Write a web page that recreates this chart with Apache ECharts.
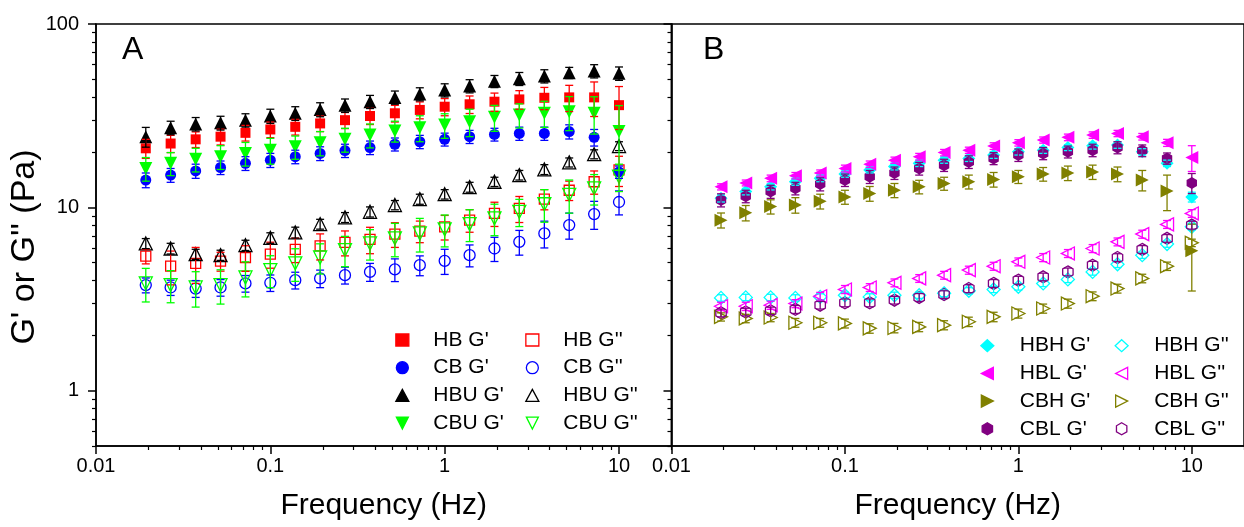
<!DOCTYPE html>
<html>
<head>
<meta charset="utf-8">
<script src="https://cdn.jsdelivr.net/npm/echarts@6/dist/echarts.min.js"></script>
<style>
  html, body { margin: 0; padding: 0; background: #fff; }
  #chart { width: 1244px; height: 527px; }
</style>
</head>
<body>
<div id="chart"></div>
<script>
// ---------- DATA ----------
const freq = [0.0193, 0.0268, 0.0373, 0.0518, 0.0720, 0.100, 0.139, 0.193, 0.268, 0.373,
              0.518, 0.720, 1.00, 1.39, 1.93, 2.68, 3.73, 5.18, 7.20, 10.0];

// Panel A
const hbG1     = [21.0, 22.3, 23.5, 24.3, 25.5, 26.6, 27.5, 28.7, 29.9, 31.5, 32.6, 34.0, 35.4, 36.5, 37.7, 38.8, 39.6, 39.8, 39.8, 36.1];
const hbG1Err  = [2.5, 2.4, 2.3, 2.4, 2.5, 2.6, 2.7, 2.8, 3.0, 3.2, 3.4, 3.6, 3.8, 4.0, 4.3, 4.5, 5.5, 6.5, 8.5, 9.5];
const cbG1     = [14.1, 15.0, 15.8, 16.5, 17.4, 18.1, 18.9, 19.7, 20.4, 21.2, 22.1, 22.8, 23.5, 24.3, 25.0, 25.3, 25.3, 25.9, 24.1, 15.6];
const cbG1Err  = [1.3, 1.3, 1.4, 1.4, 1.5, 1.6, 1.6, 1.7, 1.7, 1.8, 1.8, 1.9, 1.9, 2.0, 2.0, 2.1, 2.1, 2.3, 2.5, 1.2];
const hbuG1    = [24.3, 27.2, 28.5, 28.9, 29.9, 31.5, 32.6, 34.2, 36.0, 37.7, 39.8, 41.5, 43.6, 45.9, 48.7, 50.3, 52.0, 54.2, 55.4, 53.8];
const hbuG1Err = [3.0, 2.3, 2.4, 2.5, 2.5, 2.8, 2.8, 3.0, 3.0, 3.1, 3.3, 3.4, 3.6, 3.8, 3.7, 4.1, 4.3, 3.8, 4.6, 4.5];
const cbuG1    = [16.3, 17.4, 18.3, 18.9, 19.7, 20.5, 21.4, 22.5, 23.5, 24.8, 26.1, 27.2, 28.1, 29.3, 31.0, 31.9, 32.6, 33.2, 32.6, 25.9];
const cbuG1Err = [2.4, 2.5, 2.7, 2.8, 2.9, 3.3, 3.1, 3.4, 3.5, 3.7, 3.4, 4.4, 4.3, 5.0, 5.0, 4.8, 5.3, 7.0, 7.5, 10.0];

const hbG2     = [5.42, 4.78, 4.95, 5.09, 5.33, 5.56, 5.90, 6.17, 6.44, 6.69, 7.15, 7.42, 7.84, 8.52, 9.27, 9.87, 11.1, 12.4, 13.8, 16.0];
const hbG2Err  = [0.5, 1.0, 1.1, 0.6, 0.85, 0.9, 0.9, 1.0, 1.0, 1.1, 1.1, 1.0, 1.2, 1.2, 1.4, 1.6, 1.4, 1.5, 2.0, 3.0];
const cbG2     = [3.77, 3.66, 3.61, 3.66, 3.85, 3.88, 4.01, 4.10, 4.27, 4.45, 4.59, 4.84, 5.11, 5.49, 5.97, 6.49, 7.21, 8.01, 9.19, 10.7];
const cbG2Err  = [0.35, 0.35, 0.38, 0.38, 0.4, 0.4, 0.42, 0.45, 0.45, 0.5, 0.65, 0.6, 0.8, 0.75, 0.9, 1.0, 1.2, 1.3, 1.6, 1.6];
const hbuG2    = [6.36, 5.97, 5.56, 5.49, 6.22, 6.82, 7.30, 8.11, 8.82, 9.46, 10.3, 11.1, 11.8, 12.9, 13.8, 15.0, 16.1, 17.6, 19.5, 21.6];
const hbuG2Err = [0.4, 0.4, 0.35, 0.35, 0.4, 0.45, 0.5, 0.5, 0.55, 0.6, 0.6, 0.7, 0.7, 0.8, 0.8, 0.9, 1.0, 1.0, 1.1, 1.2];
const cbuG2    = [3.85, 3.77, 3.66, 3.77, 4.15, 4.55, 4.95, 5.33, 5.85, 6.36, 6.78, 7.21, 7.59, 8.11, 8.71, 9.46, 10.4, 11.7, 12.7, 14.7];
const cbuG2Err = [0.8, 0.75, 0.8, 0.8, 0.9, 0.9, 1.0, 1.0, 1.1, 1.2, 1.4, 1.5, 1.5, 1.6, 1.7, 1.6, 2.1, 2.4, 2.4, 2.5];

// Panel B
const hbhG1    = [11.2, 12.2, 12.95, 13.8, 14.4, 15.2, 16.0, 16.7, 17.4, 18.1, 18.5, 19.3, 20.1, 20.5, 21.2, 21.7, 21.9, 20.1, 17.4, 11.4];
const hbhG1Err = [0.5, 0.5, 0.5, 0.6, 0.6, 0.6, 0.6, 0.7, 0.7, 0.7, 0.7, 0.8, 0.8, 0.8, 0.8, 0.9, 0.9, 0.8, 0.7, 0.7];
const hblG1    = [12.95, 13.6, 14.4, 14.9, 15.4, 16.3, 17.2, 18.1, 18.9, 19.9, 20.5, 21.6, 22.5, 23.3, 24.1, 24.8, 25.3, 24.3, 22.5, 18.7];
const hblG1Err = [0.5, 0.5, 0.6, 0.6, 0.6, 0.7, 0.7, 0.7, 0.8, 0.8, 0.8, 0.9, 0.9, 0.9, 1.0, 1.0, 1.0, 1.0, 1.0, 3.0];
const cbhG1    = [8.52, 9.34, 10.1, 10.3, 10.8, 11.4, 11.9, 12.4, 12.95, 13.5, 13.8, 14.2, 14.7, 15.2, 15.4, 15.6, 15.2, 14.1, 12.3, 5.80];
const cbhG1Err = [0.8, 0.9, 0.9, 1.0, 1.0, 1.0, 1.1, 1.1, 1.1, 1.1, 1.2, 1.3, 1.2, 1.3, 1.4, 1.4, 1.4, 1.8, 2.7, 2.3];
const cblG1    = [10.96, 11.5, 12.2, 12.7, 13.4, 14.1, 14.7, 15.4, 16.3, 17.0, 17.7, 18.5, 19.3, 19.7, 20.1, 20.5, 21.2, 20.4, 18.5, 13.6];
const cblG1Err = [0.9, 0.9, 1.0, 1.0, 1.1, 1.1, 1.2, 1.2, 1.3, 1.3, 1.4, 1.4, 1.5, 1.5, 1.5, 1.6, 1.6, 1.5, 1.3, 1.7];

const hbhG2    = [3.21, 3.23, 3.23, 3.21, 3.25, 3.32, 3.25, 3.32, 3.32, 3.40, 3.51, 3.57, 3.69, 3.85, 4.05, 4.45, 4.90, 5.49, 6.31, 7.84];
const hbhG2Err = [0.13, 0.13, 0.13, 0.13, 0.13, 0.13, 0.13, 0.13, 0.13, 0.14, 0.14, 0.14, 0.15, 0.15, 0.16, 0.18, 0.2, 0.22, 0.25, 0.3];
const hblG2    = [2.89, 2.89, 2.93, 2.99, 3.28, 3.57, 3.66, 3.88, 4.10, 4.27, 4.55, 4.78, 5.05, 5.33, 5.61, 5.97, 6.49, 7.15, 8.08, 9.27];
const hblG2Err = [0.15, 0.15, 0.15, 0.15, 0.16, 0.18, 0.18, 0.19, 0.2, 0.21, 0.23, 0.24, 0.25, 0.27, 0.28, 0.3, 0.32, 0.36, 0.4, 0.45];
const cbhG2    = [2.53, 2.48, 2.51, 2.35, 2.35, 2.33, 2.19, 2.20, 2.23, 2.28, 2.38, 2.53, 2.64, 2.81, 2.99, 3.28, 3.61, 4.10, 4.78, 6.41];
const cbhG2Err = [0.13, 0.13, 0.13, 0.13, 0.13, 0.13, 0.13, 0.13, 0.13, 0.13, 0.14, 0.15, 0.15, 0.16, 0.17, 0.18, 0.2, 0.22, 0.25, 0.3];
const cblG2    = [2.66, 2.69, 2.73, 2.78, 2.93, 3.02, 3.02, 3.12, 3.23, 3.35, 3.61, 3.85, 4.01, 4.18, 4.45, 4.84, 5.33, 5.90, 6.78, 8.01];
const cblG2Err = [0.13, 0.13, 0.13, 0.14, 0.14, 0.15, 0.15, 0.15, 0.16, 0.16, 0.18, 0.19, 0.2, 0.2, 0.22, 0.24, 0.26, 0.29, 0.33, 0.4];

// Axis ticks / labels
const xMajorTicks = [0.01, 0.1, 1, 10];
const xMinorTicks = [0.02, 0.03, 0.04, 0.05, 0.06, 0.07, 0.08, 0.09,
                     0.2, 0.3, 0.4, 0.5, 0.6, 0.7, 0.8, 0.9,
                     2, 3, 4, 5, 6, 7, 8, 9, 20];
const yMajorTicks = [1, 10, 100];
const yMinorTicks = [0.5, 0.6, 0.7, 0.8, 0.9, 2, 3, 4, 5, 6, 7, 8, 9,
                     20, 30, 40, 50, 60, 70, 80, 90];

// ---------- CHART ----------
const FONT = '"Liberation Sans", Arial, sans-serif';
const HEX   = 'path://M0,-10L8.66,-5L8.66,5L0,10L-8.66,5L-8.66,-5Z';
const TRI_D = 'path://M-10,-10L10,-10L0,10Z';
const TRI_L = 'path://M10,-10L10,10L-10,0Z';
const TRI_R = 'path://M-10,-10L-10,10L10,0Z';

const seriesDefs = [
  // panel, name, values, errors, color, symbol, size, filled
  [0, "HB G'",   hbG1,  hbG1Err,  '#FF0000', 'rect',     10, true],
  [0, "HB G''",  hbG2,  hbG2Err,  '#FF0000', 'rect',     10, false],
  [0, "CB G'",   cbG1,  cbG1Err,  '#0000FF', 'circle',   11, true],
  [0, "CB G''",  cbG2,  cbG2Err,  '#0000FF', 'circle',   11, false],
  [0, "HBU G'",  hbuG1, hbuG1Err, '#000000', 'triangle', 13, true],
  [0, "HBU G''", hbuG2, hbuG2Err, '#000000', 'triangle', 13, false],
  [0, "CBU G'",  cbuG1, cbuG1Err, '#00FF00', TRI_D,      13, true],
  [0, "CBU G''", cbuG2, cbuG2Err, '#00FF00', TRI_D,      13, false],
  [1, "HBH G'",  hbhG1, hbhG1Err, '#00FFFF', 'diamond',  13, true],
  [1, "HBH G''", hbhG2, hbhG2Err, '#00FFFF', 'diamond',  13, false],
  [1, "HBL G'",  hblG1, hblG1Err, '#FF00FF', TRI_L,      13, true],
  [1, "HBL G''", hblG2, hblG2Err, '#FF00FF', TRI_L,      13, false],
  [1, "CBH G'",  cbhG1, cbhG1Err, '#808000', TRI_R,      13, true],
  [1, "CBH G''", cbhG2, cbhG2Err, '#808000', TRI_R,      13, false],
  [1, "CBL G'",  cblG1, cblG1Err, '#800080', HEX,        12, true],
  [1, "CBL G''", cblG2, cblG2Err, '#800080', HEX,        12, false]
];

function errRenderer(color) {
  return function (params, api) {
    const x = api.value(0), y = api.value(1), e = api.value(2);
    const top = api.coord([x, y + e]);
    const bot = api.coord([x, Math.max(y - e, 0.01)]);
    const hw = 4;
    const st = { stroke: color, lineWidth: 1.3 };
    return {
      type: 'group',
      children: [
        { type: 'line', shape: { x1: top[0], y1: top[1], x2: bot[0], y2: bot[1] }, style: st },
        { type: 'line', shape: { x1: top[0] - hw, y1: top[1], x2: top[0] + hw, y2: top[1] }, style: st },
        { type: 'line', shape: { x1: bot[0] - hw, y1: bot[1], x2: bot[0] + hw, y2: bot[1] }, style: st }
      ]
    };
  };
}

const series = [];
seriesDefs.forEach(function (d) {
  const [panel, name, vals, errs, color, symbol, size, filled] = d;
  series.push({
    type: 'scatter', name: name,
    xAxisIndex: panel * 2, yAxisIndex: panel * 2,
    data: freq.map((f, i) => [f, vals[i]]),
    symbol: symbol, symbolSize: size, symbolKeepAspect: true,
    itemStyle: filled
      ? { color: color, borderColor: color, borderWidth: 0, opacity: 1 }
      : { color: 'rgba(255,255,255,0)', borderColor: color, borderWidth: 1.3, opacity: 1 },
    emphasis: { disabled: true },
    silent: true, z: 2
  });
  series.push({
    type: 'custom', name: name + ' err',
    xAxisIndex: panel * 2, yAxisIndex: panel * 2,
    data: freq.map((f, i) => [f, vals[i], errs[i]]),
    encode: { x: 0, y: 1 },
    renderItem: errRenderer(color),
    silent: true, z: 3
  });
});

const axisLineStyle = { color: '#000', width: 1.5 };

function xAxes(gridIndex) {
  return [
    {
      gridIndex: gridIndex, type: 'log', min: 0.01, max: 20, position: 'bottom',
      axisLine: { show: true, lineStyle: axisLineStyle },
      axisTick: { show: true, inside: false, length: 8, customValues: xMajorTicks, lineStyle: { color: '#000', width: 1.5 } },
      axisLabel: { show: true, customValues: xMajorTicks, margin: 10, fontSize: 20, color: '#000', fontFamily: FONT,
                   formatter: v => String(v) },
      splitLine: { show: false },
      name: 'Frequency (Hz)', nameLocation: 'middle', nameGap: 45,
      nameTextStyle: { fontSize: 30, color: '#000', fontFamily: FONT }
    },
    {
      gridIndex: gridIndex, type: 'log', min: 0.01, max: 20, position: 'bottom',
      axisLine: { show: false },
      axisTick: { show: true, inside: false, length: 4, customValues: xMinorTicks, lineStyle: { color: '#000', width: 1.2 } },
      axisLabel: { show: false },
      splitLine: { show: false }
    }
  ];
}

function yAxes(gridIndex, showLabels) {
  return [
    {
      gridIndex: gridIndex, type: 'log', min: 0.5, max: 100, position: 'left',
      axisLine: { show: true, lineStyle: axisLineStyle },
      axisTick: { show: true, inside: false, length: 8, customValues: yMajorTicks, lineStyle: { color: '#000', width: 1.5 } },
      axisLabel: { show: showLabels, customValues: yMajorTicks, margin: 17, fontSize: 20, color: '#000', fontFamily: FONT,
                   formatter: v => String(v) },
      splitLine: { show: false },
      name: showLabels ? "G' or G'' (Pa)" : '', nameLocation: 'middle', nameGap: 52,
      nameTextStyle: { fontSize: 34, color: '#000', fontFamily: FONT, padding: [0, 24, 0, 0] }
    },
    {
      gridIndex: gridIndex, type: 'log', min: 0.5, max: 100, position: 'left',
      axisLine: { show: false },
      axisTick: { show: true, inside: false, length: 4, customValues: yMinorTicks, lineStyle: { color: '#000', width: 1.2 } },
      axisLabel: { show: false },
      splitLine: { show: false }
    }
  ];
}

function legendCol(names, left, top, textPad) {
  return {
    data: names, orient: 'vertical', left: left, top: top,
    itemWidth: 13, itemHeight: 12, itemGap: 6.7, padding: 0,
    selectedMode: false,
    symbolKeepAspect: true,
    itemStyle: { borderWidth: 1.3 },
    textStyle: { fontSize: 21, color: '#000', fontFamily: FONT, padding: [0, 0, 0, textPad] }
  };
}

const option = {
  animation: false,
  backgroundColor: '#fff',
  grid: [
    { left: 96, top: 24, width: 575.5, height: 422, show: true, borderColor: '#000', borderWidth: 1.5, containLabel: false },
    { left: 671.5, top: 24, width: 574, height: 422, show: true, borderColor: '#000', borderWidth: 1.5, containLabel: false }
  ],
  xAxis: [].concat(xAxes(0), xAxes(1)),
  yAxis: [].concat(yAxes(0, true), yAxes(1, false)),
  legend: [
    legendCol(["HB G'", "CB G'", "HBU G'", "CBU G'"], 395.2, 329.5, 19.5),
    legendCol(["HB G''", "CB G''", "HBU G''", "CBU G''"], 525.2, 329.5, 19.5),
    legendCol(["HBH G'", "HBL G'", "CBH G'", "CBL G'"], 980.2, 335.2, 21),
    legendCol(["HBH G''", "HBL G''", "CBH G''", "CBL G''"], 1114.5, 335.2, 21)
  ],
  graphic: [
    { type: 'text', left: 122, top: 34, style: { text: 'A', fontSize: 32, fill: '#000', fontFamily: FONT } },
    { type: 'text', left: 703, top: 34, style: { text: 'B', fontSize: 32, fill: '#000', fontFamily: FONT } }
  ],
  series: series
};

const chart = echarts.init(document.getElementById('chart'), null, { renderer: 'canvas' });
chart.setOption(option);
</script>
</body>
</html>
